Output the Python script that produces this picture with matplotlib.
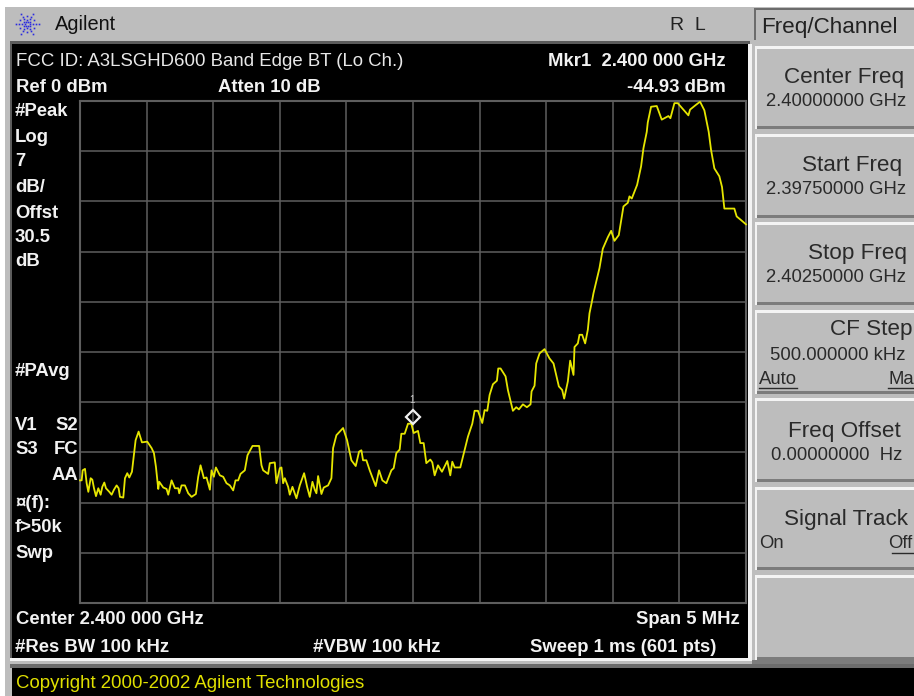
import numpy as np
import matplotlib
matplotlib.use('Agg')
import matplotlib.pyplot as plt
from matplotlib.patches import Rectangle
from matplotlib.transforms import ScaledTranslation

plt.rcParams['font.family'] = ['Liberation Sans', 'DejaVu Sans']

# trace: sweep point (0-600) and level in dBm
sweep_pts = [0, 1.5, 2.4, 4.5, 6, 7.5, 9.6, 11.1, 12.6, 14.4, 16.5, 18.6, 20.1, 21.9, 23.4, 26.4, 28.5, 30.6, 33, 34.8,
             36, 39, 40.5, 42.6, 44.4, 46.8, 48, 50.1, 52.8, 55.8, 60.6, 64.5, 66.6, 68.4, 70.5, 71.4, 75, 78, 79.5, 82.5,
             85.5, 88.5, 89.4, 91.5, 94.5, 97.5, 100.5, 104.4, 106.5, 108.6, 111.6, 114, 117, 118.5, 120.6, 122.4, 126, 129, 132, 135,
             138, 140.1, 142.5, 144.6, 148.5, 150.9, 155.4, 161.4, 163.5, 165, 169.5, 171, 175.5, 177, 180, 181.5, 183, 184.5, 187.5, 189,
             191.4, 195, 198, 201.9, 204.6, 207, 209.4, 211.5, 213, 214.5, 217.5, 219.6, 223.5, 226.5, 228, 231, 237, 240.6, 244.5, 248.4,
             251.4, 253.5, 255, 258, 261, 266.4, 269.4, 272.4, 276, 280.5, 282.6, 285, 288, 289.5, 292.5, 295.5, 298.5, 300.6, 304.5, 306.6,
             309.6, 312, 315.6, 317.4, 319.5, 322.5, 326.1, 330.9, 333.6, 335.4, 337.5, 342.6, 346.5, 349.5, 353.4, 355.5, 358.5, 362.4, 364.5, 366.9,
             369, 372, 375.6, 376.8, 378.9, 383.4, 385.5, 390, 393, 395.4, 399, 402.6, 405.9, 406.8, 409.5, 411, 414, 418.5, 423, 426.6,
             431.4, 434.4, 436.2, 439.5, 441.6, 444.6, 445.5, 448.5, 450, 452.4, 455.1, 457.5, 459, 461.4, 462.6, 468, 471, 475.5, 478.5, 481.5,
             485.4, 489.6, 493.5, 495, 497.1, 501.9, 505.5, 507.6, 510.6, 511.5, 514.5, 519.6, 524.1, 530.1, 531.9, 535.5, 538.5, 548.1, 549.6, 554.4,
             558.6, 562.5, 566.4, 568.5, 571.5, 576, 578.4, 580.5, 589.5, 591.6, 595.5, 600]
level_dbm = [-52.9, -52.9, -51.5, -51.3, -53.3, -54.5, -52.6, -52.8, -54.0, -55.1, -54.0, -54.9, -53.8, -53.2, -54.0, -54.5, -54.9, -54.2, -53.6, -54.0,
             -55.2, -55.3, -52.6, -51.9, -52.5, -51.7, -50.1, -47.3, -46.1, -47.6, -47.5, -48.4, -49.1, -51.0, -54.1, -53.1, -53.9, -54.1, -54.9, -52.9,
             -54.0, -54.0, -54.7, -53.6, -53.6, -54.7, -55.2, -54.8, -52.4, -50.8, -52.6, -52.5, -54.2, -51.5, -52.4, -51.1, -52.2, -52.4, -53.3, -53.6,
             -54.3, -52.9, -52.9, -52.0, -51.5, -49.4, -48.1, -48.1, -50.8, -51.5, -52.0, -50.5, -50.4, -53.3, -51.2, -51.1, -53.3, -52.6, -53.8, -54.9,
             -53.8, -55.4, -53.6, -51.9, -53.8, -55.2, -53.1, -54.2, -54.7, -52.3, -54.8, -53.9, -53.6, -52.6, -48.4, -46.6, -45.6, -47.3, -50.1, -50.9,
             -48.9, -48.7, -50.1, -50.1, -51.5, -53.7, -51.5, -52.9, -53.3, -51.5, -51.2, -49.1, -48.6, -46.4, -46.4, -45.0, -45.0, -46.3, -46.0, -47.7,
             -47.7, -50.5, -50.0, -50.4, -52.2, -50.8, -51.7, -50.2, -52.2, -50.3, -51.1, -51.1, -48.7, -46.8, -45.0, -43.2, -43.2, -44.9, -43.1, -43.2,
             -41.0, -39.5, -39.0, -37.3, -37.3, -38.4, -40.3, -43.2, -42.7, -43.0, -42.3, -42.7, -42.3, -40.5, -39.7, -36.6, -35.2, -34.6, -35.9, -36.6,
             -39.8, -40.3, -41.5, -39.1, -36.2, -38.2, -34.3, -33.8, -32.6, -32.6, -33.8, -31.9, -29.6, -27.8, -26.8, -23.3, -20.6, -19.0, -18.1, -19.5,
             -18.7, -14.7, -14.2, -13.3, -13.6, -11.7, -9.1, -6.6, -4.3, -3.0, -0.8, -0.7, -2.6, -2.1, -2.4, -0.3, -0.3, -2.0, -1.2, -0.6,
             -0.1, -1.3, -4.3, -6.8, -9.4, -10.5, -12.0, -15.0, -15.0, -16.1, -16.6, -17.2]
marker_pt = 300
marker_dbm = -44.93

W, H = 914, 696
BLACK_BOLD = dict(color='#f2f2f2', fontweight='bold', fontsize=13.3)

fig = plt.figure(figsize=(W / 100, H / 100), dpi=100, facecolor='white')

# screen chrome is laid out in pixels on a full figure axes
bg = fig.add_axes([0, 0, 1, 1])
bg.set_xlim(0, W)
bg.set_ylim(H, 0)
bg.axis('off')


def box(x0, y0, x1, y1, color, z=1):
    bg.add_patch(Rectangle((x0, y0), x1 - x0, y1 - y0, fc=color, ec='none', zorder=z))


def softkey(y0, y1):
    box(755, y0, 914, y1, '#f4f4f4', 2)
    box(757, y0 + 3, 914, y1, '#7c7c7c', 2)
    box(757, y0 + 3, 914, y1 - 3, '#bdbdbd', 2)


box(5, 7, 914, 696, '#bdbdbd')
box(10, 41, 750, 44, '#5c5c5c')
box(10, 41, 13, 659, '#5c5c5c')
box(12, 44, 748, 658, 'black')
box(748, 44, 752, 661, '#f4f4f4')
box(10, 658, 752, 661, '#f4f4f4')
box(10, 664, 914, 668, '#6c6c6c')
box(12, 668, 914, 696, 'black')
box(752, 660, 914, 664, '#7c7c7c')

# Freq/Channel header box
box(754, 8, 914, 40, '#6c6c6c', 2)
box(756, 10, 914, 40, '#bdbdbd', 2)

softkey(46, 129)
softkey(134, 218)
softkey(222, 305)
softkey(310, 394)
softkey(398, 482)
softkey(487, 570)
softkey(575, 660)

# Agilent spark logo
for ang in np.arange(0, 360, 30):
    rad = np.array([2.5, 5.5, 8.5, 11.5]) if ang % 60 == 0 else np.array([4, 8])
    bg.plot(27 + rad * np.cos(np.radians(ang)), 24 + rad * np.sin(np.radians(ang)),
            ls='none', marker='s', ms=1.2, mfc='#2a2ae0', mec='none', zorder=3)

txt = lambda x, y, s, ha='left', **kw: bg.text(x, y + 1, s, ha=ha, va='center', zorder=5, **kw)

txt(55, 24, 'Agilent', color='#111111', fontsize=14.4)
txt(670, 25, 'R  L', color='#222222', fontsize=14)
txt(761, 27, 'Freq/Channel', color='#222222', fontsize=16.2)

txt(16, 60, 'FCC ID: A3LSGHD600 Band Edge BT (Lo Ch.)', color='#e8e8e8', fontsize=13.4)
txt(726, 60, 'Mkr1  2.400 000 GHz', ha='right', **BLACK_BOLD)
txt(16, 87, 'Ref 0 dBm', **BLACK_BOLD)
txt(218, 87, 'Atten 10 dB', **BLACK_BOLD)
txt(726, 87, '-44.93 dBm', ha='right', **BLACK_BOLD)

left_labels = ['#Peak', 'Log', '7', 'dB/', 'Offst', '30.5', 'dB', '#PAvg', 'V1', 'S3', '¤(f):', 'f>50k', 'Swp']
left_y = [110, 137, 161, 187, 213, 237, 260, 371, 424, 449, 502, 527, 553]
for s, y in zip(left_labels, left_y):
    txt(15, y, s, **BLACK_BOLD)
txt(55, 424, 'S2', **BLACK_BOLD)
txt(54, 449, 'FC', **BLACK_BOLD)
txt(78, 475, 'AA', ha='right', **BLACK_BOLD)

txt(16, 619, 'Center 2.400 000 GHz', **BLACK_BOLD)
txt(740, 619, 'Span 5 MHz', ha='right', **BLACK_BOLD)
txt(15, 646, '#Res BW 100 kHz', **BLACK_BOLD)
txt(313, 646, '#VBW 100 kHz', **BLACK_BOLD)
txt(530, 646, 'Sweep 1 ms (601 pts)', **BLACK_BOLD)
txt(16, 682, 'Copyright 2000-2002 Agilent Technologies', color='#e0e000', fontsize=13.4)

big = dict(color='#2a2a2a', fontsize=16.2)
small = dict(color='#2a2a2a', fontsize=13.3)
txt(904, 77, 'Center Freq', ha='right', **big)
txt(906, 101, '2.40000000 GHz', ha='right', **small)
txt(902, 165, 'Start Freq', ha='right', **big)
txt(906, 189, '2.39750000 GHz', ha='right', **small)
txt(907, 252, 'Stop Freq', ha='right', **big)
txt(906, 277, '2.40250000 GHz', ha='right', **small)
txt(912, 329, 'CF Step', ha='right', **big)
txt(905, 354, '500.000000 kHz', ha='right', **small)
txt(759, 378, 'Auto', **small)
txt(888, 378, 'Ma', **small)
txt(901, 430, 'Freq Offset', ha='right', **big)
txt(902, 454, '0.00000000  Hz', ha='right', **small)
txt(908, 518, 'Signal Track', ha='right', **big)
txt(759, 543, 'On', **small)
txt(912, 543, 'Off', ha='right', **small)
bg.plot([759, 797], [388, 388], color='#2a2a2a', lw=1, zorder=5)
bg.plot([888, 914], [388, 388], color='#2a2a2a', lw=1, zorder=5)
bg.plot([892, 914], [553, 553], color='#2a2a2a', lw=1, zorder=5)

# trace graticule
ax = fig.add_axes([80 / W, 1 - 603 / H, 666 / W, 502 / H], facecolor='black')
ax.set_xlim(0, 600)
ax.set_ylim(-70, 0)
ax.set_xticks(np.arange(0, 601, 60))
ax.set_yticks(np.arange(-70, 1, 7))
ax.tick_params(length=0, labelbottom=False, labelleft=False)
ax.grid(True, color='#5e5e5e', lw=1.1)
ax.set_axisbelow(True)
for sp in ax.spines.values():
    sp.set_color('#5e5e5e')
    sp.set_linewidth(1.5)

ax.plot(sweep_pts, level_dbm, color='#e6e600', lw=1.3, clip_on=False, zorder=3)

# marker sits a few pixels above the trace point on this analyzer
up = ScaledTranslation(0, 6 / 100, fig.dpi_scale_trans)
ax.plot([marker_pt], [marker_dbm], marker='D', ms=7.5, mfc='none', mec='#f0f0f0', mew=1.6,
        transform=ax.transData + up, zorder=4)
ax.annotate('1', (marker_pt, marker_dbm), xytext=(-0.5, 16.5), textcoords='offset points', ha='center', va='center',
            color='#cccccc', fontsize=7, zorder=4)

plt.savefig('out.png', dpi=100)
